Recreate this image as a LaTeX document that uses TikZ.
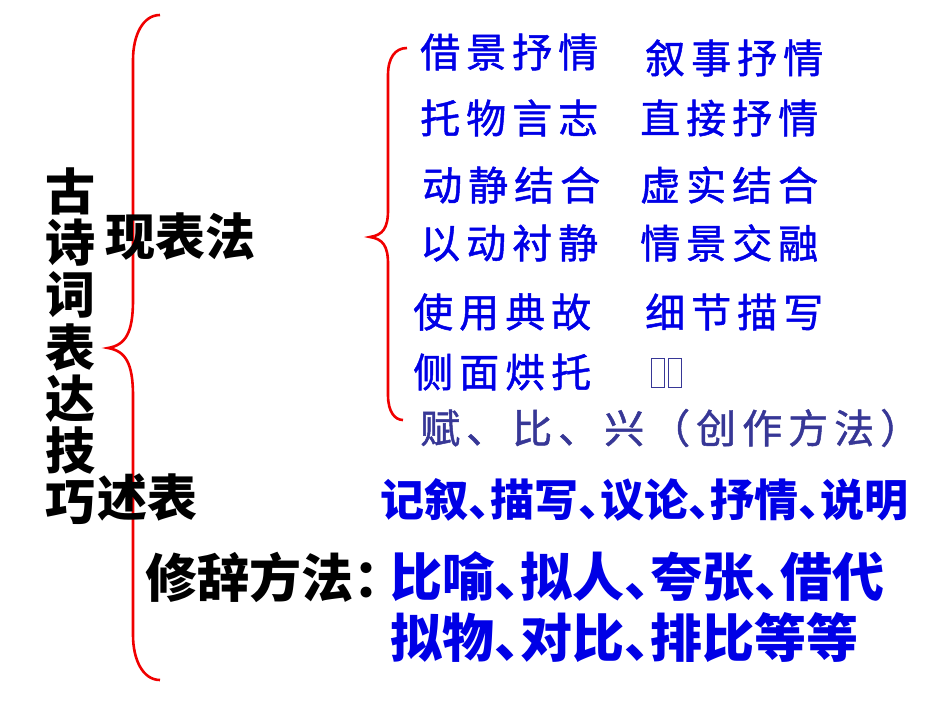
\documentclass[tikz,border=0pt]{standalone}
\usepackage{fontspec}
\usepackage{xcolor}
\usepackage{tikz}
\usetikzlibrary{positioning}
\newfontfamily\heiti{Noto Sans CJK SC}
\newfontfamily\kaiti[LetterSpace=15,FakeBold=1.2]{Noto Sans CJK SC}
\definecolor{braceRed}{RGB}{240,0,0}
\definecolor{textBlue}{RGB}{0,0,230}
\definecolor{slateBlue}{RGB}{55,55,150}
\newcommand\dunhao{\makebox[0.5em][l]{、}}

\begin{document}
\begin{tikzpicture}[x=1pt,y=-1pt,
    every node/.style={inner sep=0pt},
    bigtitle/.style={font=\heiti\bfseries\fontsize{50}{50}\selectfont},
    kaitext/.style={font=\kaiti\fontsize{40}{40}\selectfont, text=textBlue, anchor=west},
    blueline/.style={font=\heiti\bfseries\fontsize{52}{52}\selectfont, text=textBlue, anchor=west},
    bracepath/.style={draw=braceRed, line width=2.6pt}]
        \useasboundingbox (0,0) rectangle (950,713);

        % vertical title
        \foreach \c [count=\i] in {古,诗,词,表,达,技,巧}
            \node[bigtitle] (title\i) at (70,{191+52*(\i-1)}) {\c};

        % big brace
        \draw[bracepath] (160,15) .. controls (143,15) and (133,35) .. (133,60) -- (133,300)
            .. controls (133,332) and (126,345) .. (108,348)
            .. controls (126,351) and (133,364) .. (133,396) -- (133,635)
            .. controls (133,660) and (143,680) .. (160,680);

        \node[bigtitle, anchor=west] (biaoxian) at (105,237) {现表法};
        \node[bigtitle, anchor=west] (biaoda) at (97,497) {述表};

        % small brace
        \draw[bracepath] (407,48) .. controls (395,48) and (388,58) .. (388,75) -- (388,210)
            .. controls (388,228) and (383,235) .. (370,237)
            .. controls (383,239) and (388,246) .. (388,264) -- (388,395)
            .. controls (388,412) and (395,420) .. (403,420);

        \node[kaitext] (jiejing) at (420,52) {借景抒情};
        \node[kaitext] (xushi) at (645,58) {叙事抒情};
        \node[kaitext] (tuowu) at (420,118) {托物言志};
        \node[kaitext] (zhijie) at (640,118) {直接抒情};
        \node[kaitext] (dongjing) at (422,185) {动静结合};
        \node[kaitext] (xushijie) at (640,185) {虚实结合};
        \node[kaitext] (yidong) at (420,243) {以动衬静};
        \node[kaitext] (qingjing) at (640,243) {情景交融};
        \node[kaitext] (shiyong) at (413,312) {使用典故};
        \node[kaitext] (xijie) at (645,312) {细节描写};
        \node[kaitext] (cemian) at (413,372) {侧面烘托};
        \draw[slateBlue, line width=1pt] (651,358) rectangle (664,387) (668,358) rectangle (681,387);
        \node[kaitext, text=slateBlue] (fubixing) at (420,428) {赋、比、兴（创作方法）};

        % expression and rhetoric
        \node[font=\heiti\bfseries\fontsize{44}{44}\selectfont, text=textBlue, anchor=west] (jixu) at (380,500)
            {记叙\dunhao 描写\dunhao 议论\dunhao 抒情\dunhao 说明};
        \node[bigtitle, anchor=west, font=\heiti\bfseries\fontsize{52}{52}\selectfont] (xiuci) at (145,577) {修辞方法：};
        \node[blueline] (biyu) at (390,577) {比喻\dunhao 拟人\dunhao 夸张\dunhao 借代};
        \node[blueline] (niwu) at (390,638) {拟物\dunhao 对比\dunhao 排比等等};
\end{tikzpicture}
\end{document}
